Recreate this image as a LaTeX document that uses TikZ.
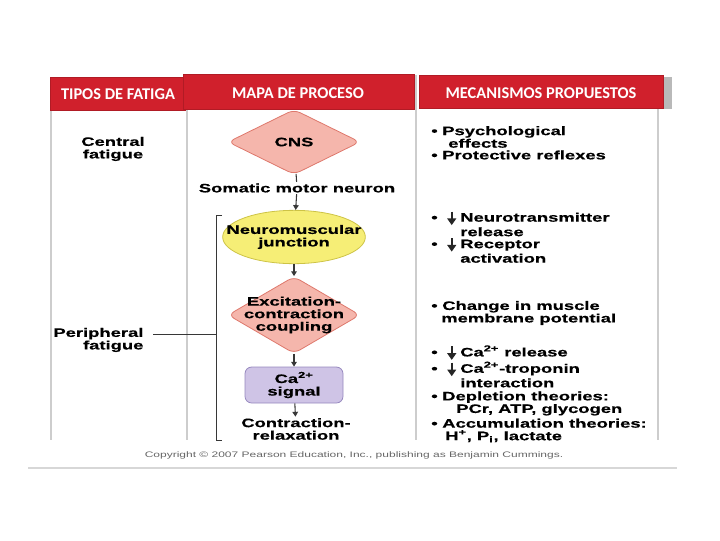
\documentclass[tikz,border=0pt]{standalone}
\usepackage{fontspec}
\setmainfont{Liberation Sans}[FakeStretch=1.5, BoldFeatures={FakeBold=0.4}]
\newfontfamily\hdfont{Carlito}
\usetikzlibrary{arrows.meta, shapes.geometric}

\definecolor{hdred}{RGB}{208,32,44}
\definecolor{colgray}{RGB}{205,205,205}
\definecolor{pinkfill}{RGB}{245,182,172}
\definecolor{pinkline}{RGB}{222,120,108}
\definecolor{yelfill}{RGB}{246,238,118}
\definecolor{yelline}{RGB}{205,195,70}
\definecolor{lavfill}{RGB}{207,196,230}
\definecolor{lavline}{RGB}{150,136,190}
\definecolor{arrgray}{RGB}{55,55,55}

\newcommand{\txtsize}{\fontsize{9.2pt}{9.4pt}\selectfont}
\newcommand{\bul}{\makebox[8.25pt][l]{\textbullet}}
\newcommand{\dnar}{\makebox[13.5pt][l]{\hspace{3.8pt}\tikz[baseline=0pt]
  \draw[black!85, line width=1.2pt, -{Triangle[length=5pt, width=6.6pt]}] (0pt,7.6pt) -- (0pt,-2.6pt);}}

\tikzset{
  hdbox/.style={fill=hdred, draw=hdred!85!black, line width=0.4pt},
  hdtxt/.style={text=white, font=\hdfont\bfseries\fontsize{12.3pt}{14pt}\selectfont, inner sep=0pt},
  lbl/.style={font=\bfseries\txtsize, align=center, inner sep=1pt},
  item/.style={font=\bfseries\txtsize, align=left, inner sep=0pt, anchor=west},
  colline/.style={colgray, line width=2.2pt},
  arr/.style={arrgray, line width=0.8pt, -{Triangle[length=3.6pt, width=4.2pt]}},
  brk/.style={arrgray, line width=0.6pt},
  pinkdia/.style={diamond, rounded corners=5pt, fill=pinkfill, draw=pinkline, line width=0.6pt, inner sep=0pt},
}

\begin{document}
\begin{tikzpicture}[x=0.75pt, y=-0.75pt]
\useasboundingbox (0,0) rectangle (720,540);

% column borders
\draw[colline] (51,110) -- (51,440);
\draw[colline] (187,110) -- (187,440);
\draw[colline] (416,75) -- (416,440);
\draw[colline] (658,108) -- (658,440);
\draw[colgray!80, line width=0.8pt] (28,468) -- (677,468);

% headers
\fill[gray!55] (663,77) rectangle (672,109);
\draw[hdbox] (50,77) rectangle (185,110);
\draw[hdbox] (183,74) rectangle (414,109);
\draw[hdbox] (419,75) rectangle (663,108);
\node[hdtxt] (hdTipos) at (118,94) {TIPOS DE FATIGA};
\node[hdtxt] (hdMapa) at (298,93) {MAPA DE PROCESO};
\node[hdtxt] (hdMec) at (541,93) {MECANISMOS PROPUESTOS};

% types of fatigue
\node[lbl] (central) at (113,149) {Central\\fatigue};
\node[lbl, align=right, anchor=east] (periph) at (145,340) {Peripheral\\fatigue};

% process map
\node[pinkdia, minimum width=99pt, minimum height=48.75pt,
  label={[lbl]center:CNS}] (cns) at (294,142) {};
\node[lbl] (somatic) at (297,188) {Somatic motor neuron};
\node[ellipse, fill=yelfill, draw=yelline, line width=0.6pt, inner sep=0pt,
  minimum width=107pt, minimum height=40pt,
  label={[lbl]center:Neuromuscular\\junction}] (nmj) at (294,237) {};
\node[pinkdia, minimum width=99pt, minimum height=57.75pt,
  label={[lbl]center:Excitation-\\contraction\\coupling}] (ecc) at (294,315) {};
\node[lbl, rectangle, rounded corners=5pt, fill=lavfill, draw=lavline, line width=0.6pt,
  minimum width=73.5pt, minimum height=27pt] (casig) at (294,385) {Ca\textsuperscript{2+}\\signal};
\node[lbl] (contr) at (296,429) {Contraction-\\relaxation};

\draw[brk, line width=0.8pt] (cns) -- (somatic);
\draw[arr] (somatic) -- (nmj);
\draw[arr] (nmj) -- (ecc);
\draw[arr] (ecc) -- (casig);
\draw[arr] (casig) -- (contr);

% bracket for peripheral fatigue
\coordinate (brkTop) at (222,215);
\coordinate (brkBot) at (222,440);
\coordinate (brkMid) at (216,334);
\coordinate (periphEnd) at (153,334);
\draw[brk] (brkTop) -- ++(-6,0) -- (216,440) -- (brkBot);
\draw[brk] (periphEnd) -- (brkMid);

% proposed mechanisms
\node[item] (psych) at (431,137) {\bul Psychological\\\hspace*{12.75pt}effects};
\node[item] (protec) at (431,155) {\bul Protective reflexes};
\node[item] (neurot) at (431,223.5) {\bul\dnar Neurotransmitter\\\hspace*{21.75pt}release};
\node[item] (recep) at (431,250) {\bul\dnar Receptor\\\hspace*{21.75pt}activation};
\node[item] (membr) at (431,313) {\bul Change in muscle\\\hspace*{7.5pt}membrane potential};
\node[item] (carel) at (431,353) {\bul\dnar Ca\textsuperscript{2+} release};
\node[item] (catrop) at (431,374.5) {\bul\dnar Ca\textsuperscript{2+}-troponin\\\hspace*{21.75pt}interaction};
\node[item] (deplet) at (431,403.5) {\bul Depletion theories:\\\hspace*{18.75pt}PCr, ATP, glycogen};
\node[item] (accum) at (431,430.5) {\bul Accumulation theories:\\\hspace*{10.5pt}H\textsuperscript{+}, P\textsubscript{i}, lactate};

% copyright line
\node[font=\fontsize{6pt}{7pt}\selectfont, text=gray!80!black, inner sep=0pt] (copy) at (354,455)
  {Copyright © 2007 Pearson Education, Inc., publishing as Benjamin Cummings.};
\end{tikzpicture}
\end{document}
